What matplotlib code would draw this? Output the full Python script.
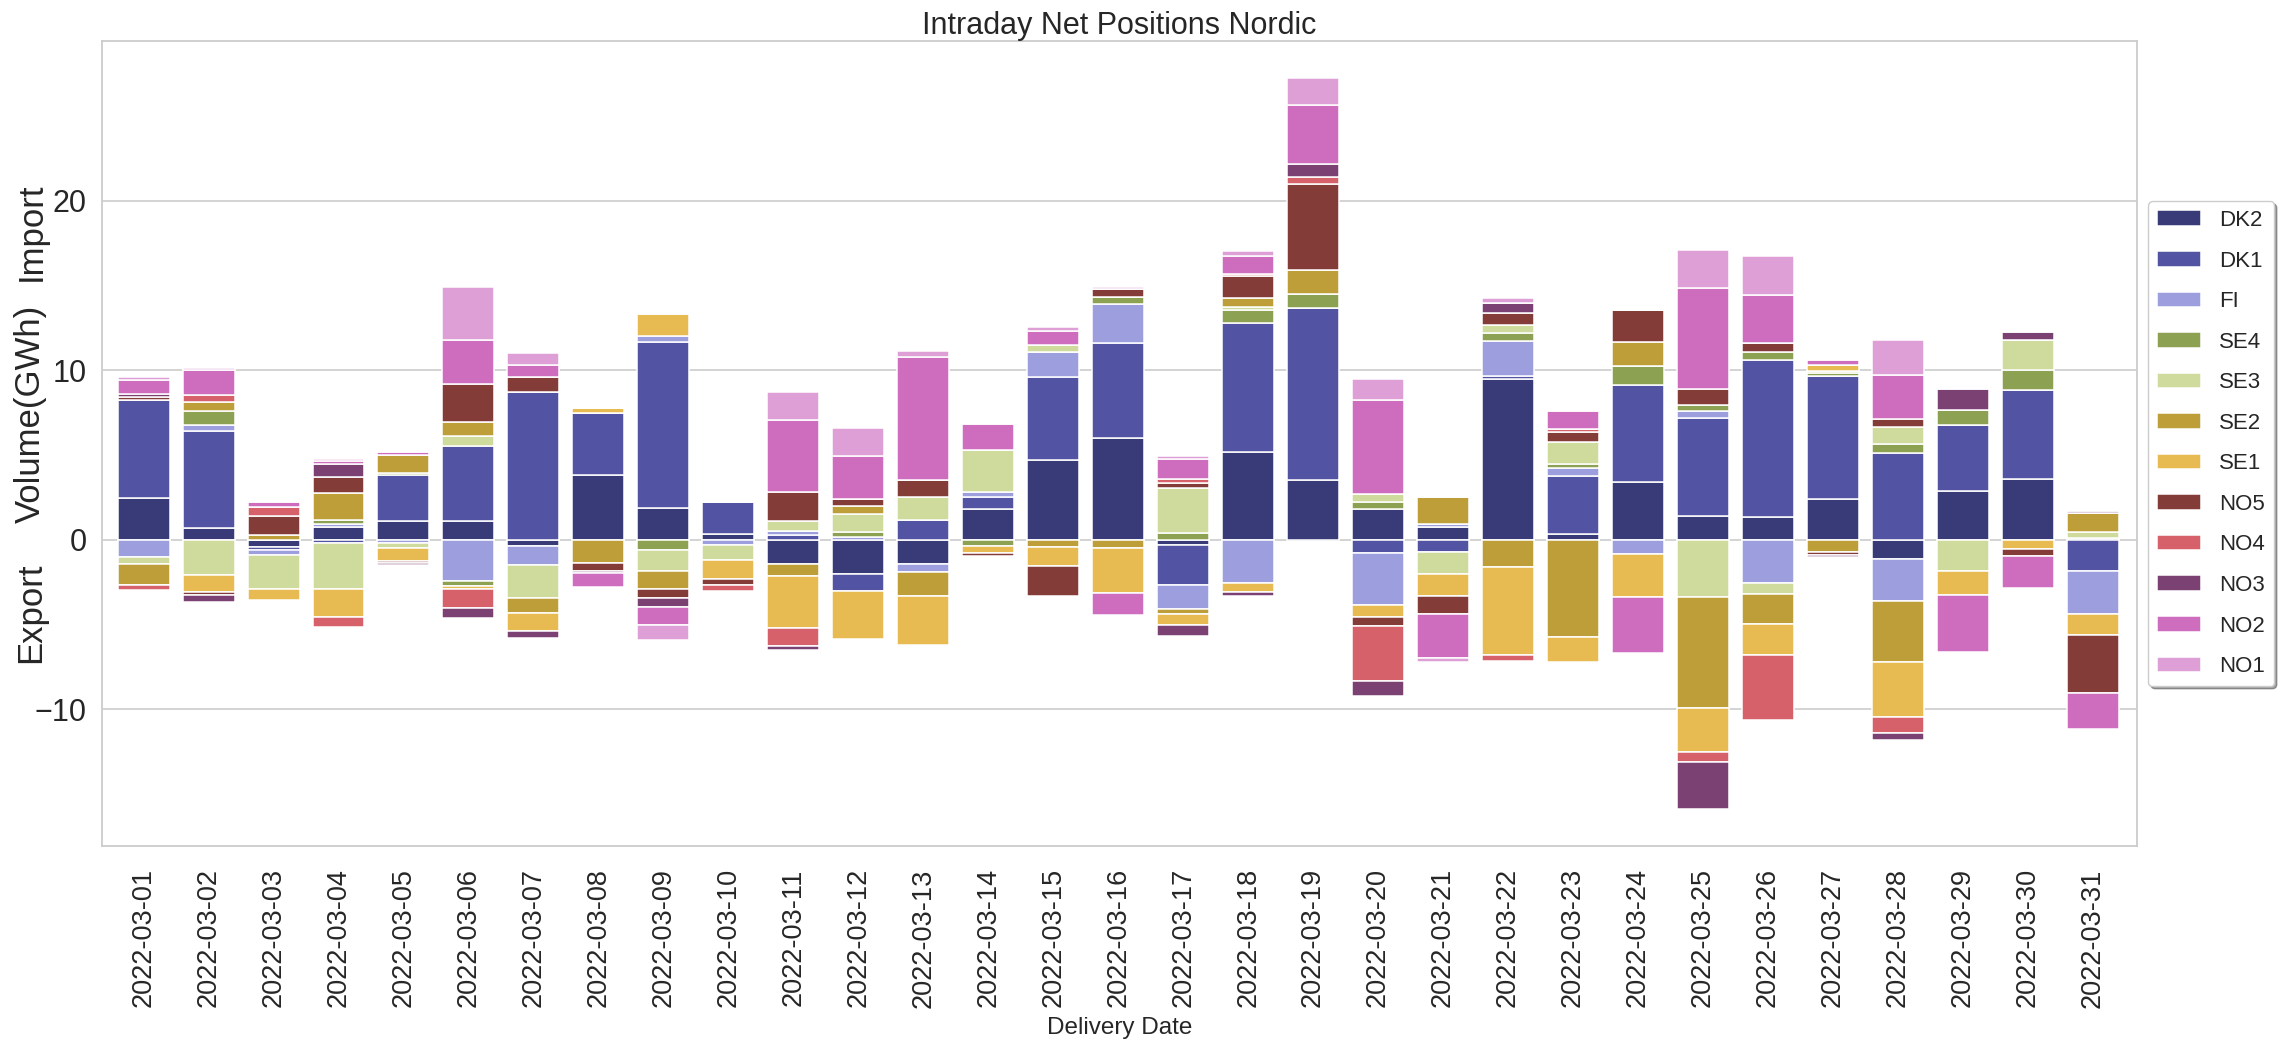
import numpy as np
import matplotlib
matplotlib.use("Agg")
import matplotlib.pyplot as plt

# ---------------- data ----------------
dates = ["2022-03-01", "2022-03-02", "2022-03-03", "2022-03-04", "2022-03-05",
         "2022-03-06", "2022-03-07", "2022-03-08", "2022-03-09", "2022-03-10",
         "2022-03-11", "2022-03-12", "2022-03-13", "2022-03-14", "2022-03-15",
         "2022-03-16", "2022-03-17", "2022-03-18", "2022-03-19", "2022-03-20",
         "2022-03-21", "2022-03-22", "2022-03-23", "2022-03-24", "2022-03-25",
         "2022-03-26", "2022-03-27", "2022-03-28", "2022-03-29", "2022-03-30",
         "2022-03-31"]

zones = ["DK2", "DK1", "FI", "SE4", "SE3", "SE2", "SE1", "NO5", "NO4", "NO3", "NO2", "NO1"]

DK2 = [2.45, 0.7, -0.45, 0.75, 1.1, 1.1, -0.4, 3.8, 1.9, 0.35, -1.42, -2.0, -1.45, 1.84, 4.71,
       6.01, -0.33, 5.17, 3.5, 1.81, 0.75, 9.49, 0.36, 3.38, 1.42, 1.33, 2.39, -1.15, 2.9, 3.6, 0.12]
DK1 = [5.8, 5.7, -0.15, -0.2, 2.75, 4.45, 8.7, 3.7, 9.75, 1.87, 0.25, -1.0, 1.18, 0.7, 4.89,
       5.59, -2.36, 7.64, 10.15, -0.79, -0.7, 0.15, 3.38, 5.77, 5.74, 9.3, 7.25, 5.1, 3.87, 5.23, -1.84]
FI = [-1.0, 0.4, -0.3, 0.15, -0.2, -2.45, -1.1, 0.0, 0.4, -0.3, 0.27, 0.18, -0.45, 0.3, 1.48,
      2.3, -1.42, -2.54, 0.0, -3.05, 0.18, 2.11, 0.48, -0.85, 0.42, -2.54, 0.0, -2.45, 0.0, 0.0, -2.54]
SE4 = [0.0, 0.8, 0.0, 0.25, 0.1, -0.3, 0.0, 0.0, -0.6, 0.0, 0.0, 0.3, 0.0, -0.4, 0.0,
       0.45, 0.39, 0.76, 0.85, 0.42, 0.0, 0.45, 0.27, 1.09, 0.36, 0.48, 0.2, 0.54, 0.88, 1.21, 0.0]
SE3 = [-0.45, -2.1, -2.0, -2.7, -0.3, 0.55, -1.95, 0.0, -1.25, -0.9, 0.6, 1.03, 1.33, 2.48, 0.39,
       0.0, 2.69, 0.18, 0.0, 0.48, -1.33, 0.45, 1.3, 0.0, -3.41, -0.69, 0.12, 1.0, -1.87, 1.75, 0.33]
SE2 = [-1.2, 0.55, 0.3, 1.6, 1.05, 0.85, -0.85, -1.35, -1.05, 0.0, -0.75, 0.48, -1.42, 0.0, -0.42,
       -0.48, -0.27, 0.54, 1.45, 0.0, 1.57, -1.63, -5.77, 1.45, -6.5, -1.72, -0.7, -3.63, 0.0, 0.0, 1.12]
SE1 = [-0.05, -1.0, -0.65, -1.65, -0.75, -0.15, -1.1, 0.27, 1.25, -1.1, -3.02, -2.84, -2.87, -0.4, -1.12,
       -2.69, -0.66, -0.57, 0.0, -0.73, -1.3, -5.2, -1.45, -2.54, -2.6, -1.84, 0.35, -3.23, -1.42, -0.57, -1.27]
NO5 = [0.15, -0.15, 1.1, 0.95, -0.15, 2.25, 0.9, -0.5, -0.55, -0.35, 1.72, 0.39, 1.03, -0.15, -1.81,
       0.45, 0.24, 1.27, 5.05, -0.51, -1.06, 0.76, 0.54, 1.9, 0.94, 0.48, -0.18, 0.51, 0.0, -0.42, -3.38]
NO4 = [-0.25, 0.4, 0.55, -0.6, 0.0, -1.15, 0.0, 0.0, 0.1, -0.35, -1.09, 0.0, 0.0, 0.0, 0.0,
       0.0, 0.27, 0.15, 0.39, -3.26, 0.0, -0.33, 0.18, 0.0, -0.63, -3.87, 0.0, -0.94, 0.0, 0.0, 0.0]
NO3 = [0.2, -0.4, 0.0, 0.75, -0.1, -0.6, -0.4, -0.1, -0.5, 0.0, -0.21, 0.0, 0.0, 0.0, 0.0,
       0.0, -0.63, -0.21, 0.76, -0.91, 0.0, 0.57, 0.0, 0.0, -2.78, 0.0, -0.12, -0.42, 1.24, 0.48, 0.12]
NO2 = [0.8, 1.45, 0.3, 0.2, 0.15, 2.6, 0.7, -0.85, -1.1, 0.0, 4.23, 2.57, 7.22, 1.54, 0.85,
       -1.27, 1.15, 1.06, 3.5, 5.56, -2.6, 0.0, 1.06, -3.29, 5.98, 2.84, 0.3, 2.57, -3.35, -1.87, -2.15]
NO1 = [0.2, 0.15, 0.0, 0.1, 0.05, 3.1, 0.75, 0.0, -0.85, 0.0, 1.63, 1.63, 0.36, 0.0, 0.21,
       0.12, 0.21, 0.3, 1.63, 1.24, -0.24, 0.27, 0.0, 0.0, 2.24, 2.33, 0.0, 2.05, 0.0, 0.0, 0.0]

series = [DK2, DK1, FI, SE4, SE3, SE2, SE1, NO5, NO4, NO3, NO2, NO1]

# ---------------- style ----------------
colors = ["#393b79", "#5254a3", "#9c9ede", "#8ca252", "#cedb9c", "#bd9e39",
          "#e7ba52", "#843c39", "#d6616b", "#7b4173", "#ce6dbd", "#de9ed6"]
TXT = "#262626"
GRID = "#cccccc"

plt.rcParams["font.family"] = ["Liberation Sans", "DejaVu Sans"]

fig = plt.figure(figsize=(22.87, 10.5), dpi=100)
ax = fig.add_axes([102 / 2287, 1 - 846 / 1050, (2137 - 102) / 2287, (846 - 41) / 1050])

x = np.arange(len(dates))
pos_bottom = np.zeros(len(dates))
neg_bottom = np.zeros(len(dates))
for name, vals, col in zip(zones, series, colors):
    v = np.asarray(vals, dtype=float)
    bottom = np.where(v >= 0, pos_bottom, neg_bottom)
    ax.bar(x, v, width=0.8, bottom=bottom, color=col, edgecolor="white",
           linewidth=1.1, label=name, zorder=2)
    pos_bottom += np.clip(v, 0, None)
    neg_bottom += np.clip(v, None, 0)

ax.set_xlim(-0.64, len(dates) - 1 + 0.68)
ax.margins(y=0.05)
ax.autoscale(axis="y")

ax.set_facecolor("white")
ax.grid(axis="y", color=GRID, linewidth=1.2, zorder=0)
ax.grid(axis="x", visible=False)
ax.set_axisbelow(True)
for s in ax.spines.values():
    s.set_color(GRID)
    s.set_linewidth(1.3)

ax.set_xticks(x)
ax.set_xticklabels(dates, rotation=90, fontsize=19.5, color=TXT)
ax.tick_params(axis="x", length=0, pad=16)
ax.tick_params(axis="y", length=0, pad=11, labelsize=22, labelcolor=TXT)

ax.set_title("Intraday Net Positions Nordic", fontsize=22, color=TXT, pad=2)
ax.set_xlabel("Delivery Date", fontsize=17.5, color=TXT)
ax.xaxis.set_label_coords(0.5, -0.212)

ax.text(-0.035, 0.763, "Import", rotation=90, transform=ax.transAxes,
        ha="center", va="center", fontsize=25, color=TXT)
ax.text(-0.035, 0.537, "Volume(GWh)", rotation=90, transform=ax.transAxes,
        ha="center", va="center", fontsize=25, color=TXT)
ax.text(-0.035, 0.29, "Export", rotation=90, transform=ax.transAxes,
        ha="center", va="center", fontsize=25, color=TXT)

leg = ax.legend(loc="center left", bbox_to_anchor=(1.0, 0.5), fontsize=16,
                frameon=True, fancybox=True, shadow=True, labelspacing=0.88,
                borderaxespad=0.5)
leg.get_frame().set_edgecolor(GRID)
leg.get_frame().set_facecolor("white")
for t in leg.get_texts():
    t.set_color(TXT)

fig.savefig("out.png", dpi=100, facecolor="white")
